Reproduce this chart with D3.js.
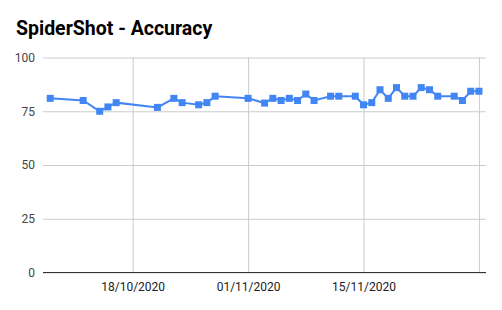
<!DOCTYPE html>
<html><head><meta charset="utf-8">
<script src="https://cdn.jsdelivr.net/npm/d3@7"></script>
<style>body{margin:0;background:#fff}svg{display:block}</style>
</head><body>
<svg id="c" width="502" height="310"></svg>
<script>
const dates = ["2020-10-08","2020-10-12","2020-10-14","2020-10-15","2020-10-16","2020-10-21","2020-10-23","2020-10-24","2020-10-26","2020-10-27","2020-10-28","2020-11-01","2020-11-03","2020-11-04","2020-11-05","2020-11-06","2020-11-07","2020-11-08","2020-11-09","2020-11-11","2020-11-12","2020-11-14","2020-11-15","2020-11-16","2020-11-17","2020-11-18","2020-11-19","2020-11-20","2020-11-21","2020-11-22","2020-11-23","2020-11-24","2020-11-26","2020-11-27","2020-11-28","2020-11-29"];
const accuracy = [81,80,75,77,79,76.8,81,79,78,79,82,81,78.8,81,80,81,80,83,80,82,82,82,78,79,85,81,86,82,82,86,85,82,82,80,84.3,84.3];
const xTicks = ["2020-10-18","2020-11-01","2020-11-15","2020-11-29"];
const xTickLabels = ["18/10/2020","01/11/2020","15/11/2020",""];
const yTicks = [0,25,50,75,100];
const title = "SpiderShot - Accuracy";

const parse = d3.utcParse("%Y-%m-%d");
const data = dates.map((d,i)=>({d:parse(d), v:accuracy[i]}));
const svg = d3.select("#c");
const L=43, R=486, T=57.5, B=272.5;
const x = d3.scaleUtc()
  .domain([new Date(Date.UTC(2020,9,7,3)), new Date(Date.UTC(2020,10,29,20,30))])
  .range([L,R]);
const y = d3.scaleLinear().domain([0,100]).range([B,T]);

svg.append("text").attr("x",16).attr("y",34.5)
  .attr("font-family","Roboto").attr("font-weight","bold").attr("font-size",19.5)
  .attr("fill","#000").text(title);

// horizontal grid
const gy = svg.append("g").attr("transform",`translate(${L},0)`)
  .call(d3.axisLeft(y).tickValues(yTicks).tickSize(-(R-L)).tickPadding(8));
gy.select(".domain").remove();
gy.selectAll(".tick line").attr("stroke","#ccc");
gy.selectAll(".tick text").attr("font-family","Roboto").attr("font-size",12).attr("fill","#444");

// vertical grid + labels
const gx = svg.append("g").attr("transform",`translate(0,${T})`)
  .call(d3.axisBottom(x).tickValues(xTicks.map(parse)).tickSize(B-T)
    .tickFormat((d,i)=>xTickLabels[i]).tickPadding(10));
gx.select(".domain").remove();
gx.selectAll(".tick line").attr("stroke","#ccc");
gx.selectAll(".tick text").attr("font-family","Roboto").attr("font-size",12).attr("fill","#222");

// baseline
svg.append("line").attr("x1",L).attr("x2",R).attr("y1",y(0)).attr("y2",y(0))
  .attr("stroke","#333").attr("stroke-width",1);

svg.append("path").datum(data)
  .attr("fill","none").attr("stroke","#4285f4").attr("stroke-width",2)
  .attr("d", d3.line().x(d=>x(d.d)).y(d=>y(d.v)));

const s=7;
svg.selectAll("rect.pt").data(data).enter().append("rect").attr("class","pt")
  .attr("x",d=>x(d.d)-s/2).attr("y",d=>y(d.v)-s/2).attr("width",s).attr("height",s)
  .attr("fill","#4285f4");
</script>
</body></html>
